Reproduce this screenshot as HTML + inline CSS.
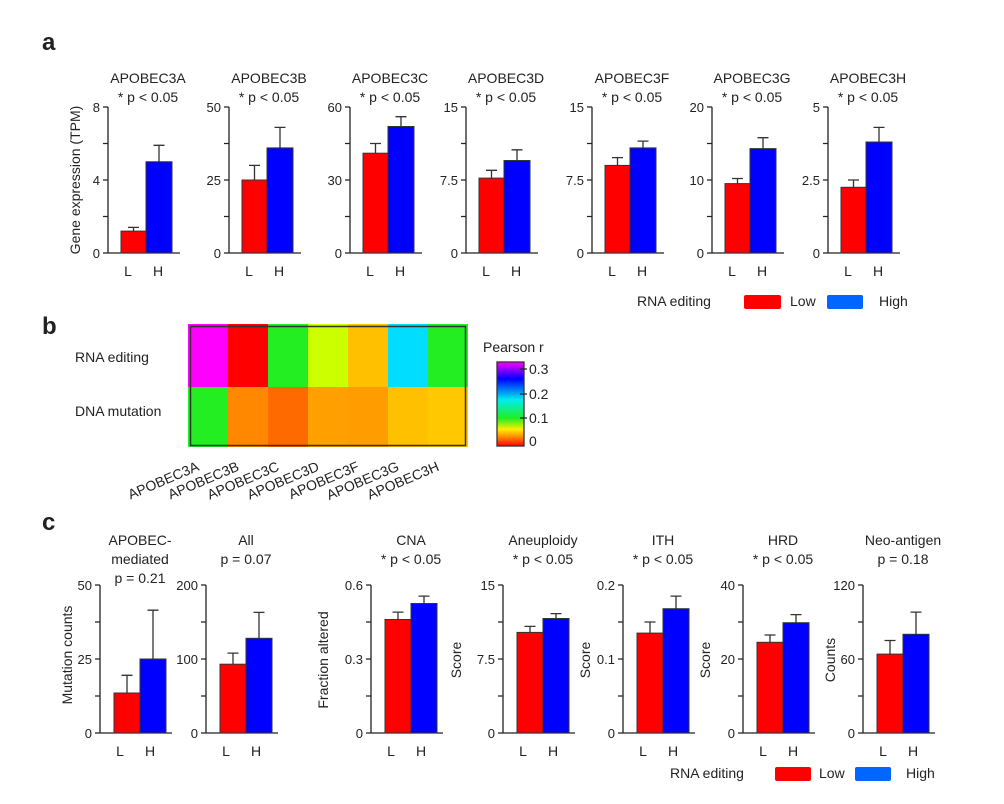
<!DOCTYPE html>
<html><head><meta charset="utf-8"><style>
body{margin:0;background:#fff}
svg{display:block;font-family:"Liberation Sans",Arial,sans-serif;fill:#222}
.ax{stroke:#222;stroke-width:1.3;fill:none}
.L{fill:#ff0000;stroke:#333;stroke-width:1}
.H{fill:#0000ff;stroke:#333;stroke-width:1}
.e{stroke:#333;stroke-width:1.3}
text{font-size:14px}
.t{font-size:14px;text-anchor:middle}
.tk{font-size:13px;text-anchor:end}
</style></head><body>
<svg width="1004" height="804" viewBox="0 0 1004 804">
<defs>
<g id="axa"><path class="ax" d="M0 107V253M-5 107H0M-5 143.5H0M-5 180H0M-5 216.5H0M-5 253H72"/><text x="20" y="276" class="t">L</text><text x="50" y="276" class="t">H</text></g>
<g id="axc"><path class="ax" d="M0 585V733M-5 585H0M-5 622H0M-5 659H0M-5 696H0M-5 733H72"/><text x="20" y="756" class="t">L</text><text x="50" y="756" class="t">H</text></g>
<linearGradient id="cb" x1="0" y1="1" x2="0" y2="0">
<stop offset="0" stop-color="#ff0000"/><stop offset="0.1" stop-color="#ff8000"/><stop offset="0.2" stop-color="#ffee00"/><stop offset="0.33" stop-color="#22ee22"/><stop offset="0.55" stop-color="#00eeee"/><stop offset="0.8" stop-color="#0000ff"/><stop offset="1" stop-color="#ff00ff"/>
</linearGradient>
</defs>
<text x="42" y="50" style="font-size:24px;font-weight:bold">a</text>
<text x="80" y="180" class="t" transform="rotate(-90 80 180)">Gene expression (TPM)</text>

<g transform="translate(108,0)"><use href="#axa"/><text x="-8" y="112" class="tk">8</text><text x="-8" y="185" class="tk">4</text><text x="-8" y="258" class="tk">0</text>
<text x="40" y="83" class="t">APOBEC3A</text><text x="40" y="102" class="t">* p &lt; 0.05</text>
<path class="e" d="M25.5 231V227.4M20 227.4H31M51 161.7V145.3M45.5 145.3H56.5"/>
<rect class="L" x="13" y="231.1" width="25" height="21.9"/><rect class="H" x="38" y="161.75" width="26" height="91.25"/></g>

<g transform="translate(229,0)"><use href="#axa"/><text x="-8" y="112" class="tk">50</text><text x="-8" y="185" class="tk">25</text><text x="-8" y="258" class="tk">0</text>
<text x="40" y="83" class="t">APOBEC3B</text><text x="40" y="102" class="t">* p &lt; 0.05</text>
<path class="e" d="M25.5 180V165.4M20 165.4H31M51 147.9V127.4M45.5 127.4H56.5"/>
<rect class="L" x="13" y="180" width="25" height="73"/><rect class="H" x="38" y="147.9" width="26" height="105.1"/></g>

<g transform="translate(350,0)"><use href="#axa"/><text x="-8" y="112" class="tk">60</text><text x="-8" y="185" class="tk">30</text><text x="-8" y="258" class="tk">0</text>
<text x="40" y="83" class="t">APOBEC3C</text><text x="40" y="102" class="t">* p &lt; 0.05</text>
<path class="e" d="M25.5 153.2V143.5M20 143.5H31M51 126.5V116.7M45.5 116.7H56.5"/>
<rect class="L" x="13" y="153.2" width="25" height="99.8"/><rect class="H" x="38" y="126.5" width="26" height="126.5"/></g>

<g transform="translate(466,0)"><use href="#axa"/><text x="-8" y="112" class="tk">15</text><text x="-8" y="185" class="tk">7.5</text><text x="-8" y="258" class="tk">0</text>
<text x="40" y="83" class="t">APOBEC3D</text><text x="40" y="102" class="t">* p &lt; 0.05</text>
<path class="e" d="M25.5 178.1V170.3M20 170.3H31M51 160.5V149.8M45.5 149.8H56.5"/>
<rect class="L" x="13" y="178.1" width="25" height="74.9"/><rect class="H" x="38" y="160.5" width="26" height="92.5"/></g>

<g transform="translate(592,0)"><use href="#axa"/><text x="-8" y="112" class="tk">15</text><text x="-8" y="185" class="tk">7.5</text><text x="-8" y="258" class="tk">0</text>
<text x="40" y="83" class="t">APOBEC3F</text><text x="40" y="102" class="t">* p &lt; 0.05</text>
<path class="e" d="M25.5 165.4V157.6M20 157.6H31M51 147.9V141.1M45.5 141.1H56.5"/>
<rect class="L" x="13" y="165.4" width="25" height="87.6"/><rect class="H" x="38" y="147.9" width="26" height="105.1"/></g>

<g transform="translate(712,0)"><use href="#axa"/><text x="-8" y="112" class="tk">20</text><text x="-8" y="185" class="tk">10</text><text x="-8" y="258" class="tk">0</text>
<text x="40" y="83" class="t">APOBEC3G</text><text x="40" y="102" class="t">* p &lt; 0.05</text>
<path class="e" d="M25.5 183.6V178.5M20 178.5H31M51 148.6V137.7M45.5 137.7H56.5"/>
<rect class="L" x="13" y="183.6" width="25" height="69.4"/><rect class="H" x="38" y="148.6" width="26" height="104.4"/></g>

<g transform="translate(828,0)"><use href="#axa"/><text x="-8" y="112" class="tk">5</text><text x="-8" y="185" class="tk">2.5</text><text x="-8" y="258" class="tk">0</text>
<text x="40" y="83" class="t">APOBEC3H</text><text x="40" y="102" class="t">* p &lt; 0.05</text>
<path class="e" d="M25.5 187.3V180M20 180H31M51 142V127.4M45.5 127.4H56.5"/>
<rect class="L" x="13" y="187.3" width="25" height="65.7"/><rect class="H" x="38" y="142" width="26" height="111"/></g>

<text x="637" y="306">RNA editing</text>
<rect x="744" y="295" width="37" height="14" rx="2" fill="#ff0000"/><text x="790" y="306">Low</text>
<rect x="827" y="295" width="36" height="14" rx="2" fill="#0066ff"/><text x="879" y="306">High</text>

<text x="42" y="334" style="font-size:24px;font-weight:bold">b</text>
<text x="75" y="362">RNA editing</text><text x="75" y="416">DNA mutation</text>
<g>
<rect x="188" y="324" width="40" height="63" fill="#ff00ff"/><rect x="228" y="324" width="40" height="63" fill="#ff0000"/><rect x="268" y="324" width="40" height="63" fill="#22ee22"/><rect x="308" y="324" width="40" height="63" fill="#ccff00"/><rect x="348" y="324" width="40" height="63" fill="#ffc000"/><rect x="388" y="324" width="40" height="63" fill="#00ddff"/><rect x="428" y="324" width="40" height="63" fill="#22ee22"/>
<rect x="188" y="387" width="40" height="60" fill="#22ee22"/><rect x="228" y="387" width="40" height="60" fill="#ff8800"/><rect x="268" y="387" width="40" height="60" fill="#ff6a00"/><rect x="308" y="387" width="40" height="60" fill="#ffa000"/><rect x="348" y="387" width="40" height="60" fill="#ff9c00"/><rect x="388" y="387" width="40" height="60" fill="#ffc000"/><rect x="428" y="387" width="40" height="60" fill="#ffc800"/>
<rect x="190.5" y="326.5" width="275" height="119" fill="none" stroke="#333" stroke-width="1.5"/>
</g>
<g style="font-size:15px">
<text x="200" y="470" text-anchor="end" transform="rotate(-23 200 470)">APOBEC3A</text>
<text x="240" y="470" text-anchor="end" transform="rotate(-23 240 470)">APOBEC3B</text>
<text x="280" y="470" text-anchor="end" transform="rotate(-23 280 470)">APOBEC3C</text>
<text x="320" y="470" text-anchor="end" transform="rotate(-23 320 470)">APOBEC3D</text>
<text x="360" y="470" text-anchor="end" transform="rotate(-23 360 470)">APOBEC3F</text>
<text x="400" y="470" text-anchor="end" transform="rotate(-23 400 470)">APOBEC3G</text>
<text x="440" y="470" text-anchor="end" transform="rotate(-23 440 470)">APOBEC3H</text>
</g>
<text x="483" y="352">Pearson r</text>
<rect x="497" y="362" width="27" height="84" fill="url(#cb)" stroke="#333" stroke-width="1.3"/>
<path class="ax" d="M520 369H527M520 394H527M520 418H527"/>
<text x="529" y="374">0.3</text><text x="529" y="399">0.2</text><text x="529" y="423">0.1</text><text x="529" y="446">0</text>

<text x="42" y="530" style="font-size:24px;font-weight:bold">c</text>
<text x="72" y="655" class="t" transform="rotate(-90 72 655)">Mutation counts</text>
<text x="328" y="660" class="t" transform="rotate(-90 328 660)">Fraction altered</text>
<text x="461" y="660" class="t" transform="rotate(-90 461 660)">Score</text>
<text x="590" y="660" class="t" transform="rotate(-90 590 660)">Score</text>
<text x="710" y="660" class="t" transform="rotate(-90 710 660)">Score</text>
<text x="835" y="660" class="t" transform="rotate(-90 835 660)">Counts</text>

<g transform="translate(100,0)"><use href="#axc"/><text x="-8" y="590" class="tk">50</text><text x="-8" y="664" class="tk">25</text><text x="-8" y="738" class="tk">0</text>
<text x="40" y="545" class="t">APOBEC-</text><text x="40" y="564" class="t">mediated</text><text x="40" y="583" class="t">p = 0.21</text>
<path class="e" d="M27 693V675.3M21.5 675.3H32.5M53 659V610.2M47.5 610.2H58.5"/>
<rect class="L" x="14" y="693" width="26" height="40"/><rect class="H" x="40" y="659" width="26" height="74"/></g>

<g transform="translate(206,0)"><use href="#axc"/><text x="-8" y="590" class="tk">200</text><text x="-8" y="664" class="tk">100</text><text x="-8" y="738" class="tk">0</text>
<text x="40" y="545" class="t">All</text><text x="40" y="564" class="t">p = 0.07</text>
<path class="e" d="M27 664.2V653.1M21.5 653.1H32.5M53 638.3V612.4M47.5 612.4H58.5"/>
<rect class="L" x="14" y="664.2" width="26" height="68.8"/><rect class="H" x="40" y="638.3" width="26" height="94.7"/></g>

<g transform="translate(371,0)"><use href="#axc"/><text x="-8" y="590" class="tk">0.6</text><text x="-8" y="664" class="tk">0.3</text><text x="-8" y="738" class="tk">0</text>
<text x="40" y="545" class="t">CNA</text><text x="40" y="564" class="t">* p &lt; 0.05</text>
<path class="e" d="M27 619.5V612.1M21.5 612.1H32.5M53 603.5V596.1M47.5 596.1H58.5"/>
<rect class="L" x="14" y="619.5" width="26" height="113.5"/><rect class="H" x="40" y="603.5" width="26" height="129.5"/></g>

<g transform="translate(503,0)"><use href="#axc"/><text x="-8" y="590" class="tk">15</text><text x="-8" y="664" class="tk">7.5</text><text x="-8" y="738" class="tk">0</text>
<text x="40" y="545" class="t">Aneuploidy</text><text x="40" y="564" class="t">* p &lt; 0.05</text>
<path class="e" d="M27 632.4V626.4M21.5 626.4H32.5M53 618.5V613.6M47.5 613.6H58.5"/>
<rect class="L" x="14" y="632.4" width="26" height="100.6"/><rect class="H" x="40" y="618.5" width="26" height="114.5"/></g>

<g transform="translate(623,0)"><use href="#axc"/><text x="-8" y="590" class="tk">0.2</text><text x="-8" y="664" class="tk">0.1</text><text x="-8" y="738" class="tk">0</text>
<text x="40" y="545" class="t">ITH</text><text x="40" y="564" class="t">* p &lt; 0.05</text>
<path class="e" d="M27 633.1V622M21.5 622H32.5M53 608.7V596.1M47.5 596.1H58.5"/>
<rect class="L" x="14" y="633.1" width="26" height="99.9"/><rect class="H" x="40" y="608.7" width="26" height="124.3"/></g>

<g transform="translate(743,0)"><use href="#axc"/><text x="-8" y="590" class="tk">40</text><text x="-8" y="664" class="tk">20</text><text x="-8" y="738" class="tk">0</text>
<text x="40" y="545" class="t">HRD</text><text x="40" y="564" class="t">* p &lt; 0.05</text>
<path class="e" d="M27 642.3V635M21.5 635H32.5M53 622.7V614.6M47.5 614.6H58.5"/>
<rect class="L" x="14" y="642.3" width="26" height="90.7"/><rect class="H" x="40" y="622.7" width="26" height="110.3"/></g>

<g transform="translate(863,0)"><use href="#axc"/><text x="-8" y="590" class="tk">120</text><text x="-8" y="664" class="tk">60</text><text x="-8" y="738" class="tk">0</text>
<text x="40" y="545" class="t">Neo-antigen</text><text x="40" y="564" class="t">p = 0.18</text>
<path class="e" d="M27 654.1V640.5M21.5 640.5H32.5M53 634.3V612.1M47.5 612.1H58.5"/>
<rect class="L" x="14" y="654.1" width="26" height="78.9"/><rect class="H" x="40" y="634.3" width="26" height="98.7"/></g>

<text x="670" y="778">RNA editing</text>
<rect x="775" y="767" width="36" height="14" rx="2" fill="#ff0000"/><text x="819" y="778">Low</text>
<rect x="855" y="767" width="36" height="14" rx="2" fill="#0066ff"/><text x="906" y="778">High</text>
</svg>
</body></html>
